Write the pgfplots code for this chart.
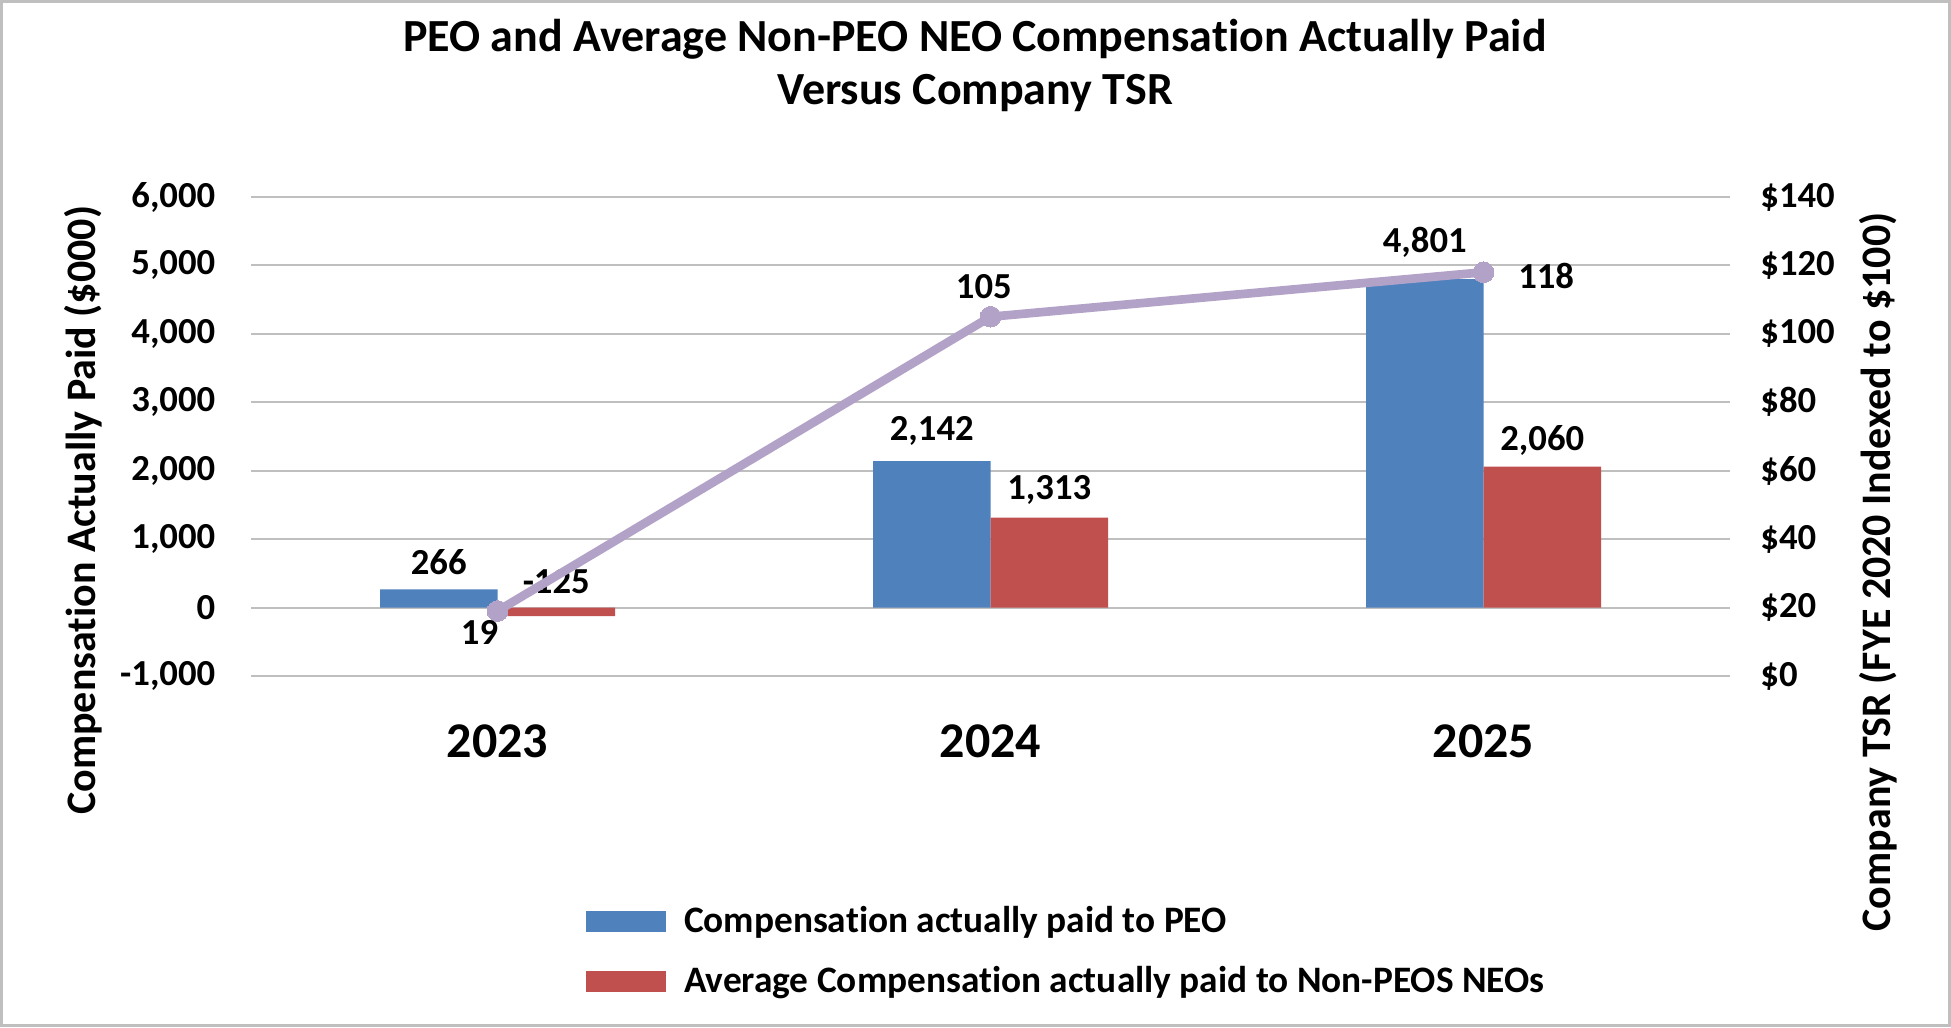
\documentclass[border=0pt]{standalone}
\usepackage{fontspec}
\setmainfont{Carlito}[Ligatures=NoCommon]
\usepackage{pgfplots}
\pgfplotsset{compat=1.18}
\usepackage{pgfplotstable}
\definecolor{peo}{HTML}{4F81BD}
\definecolor{neo}{HTML}{C0504D}
\definecolor{tsr}{HTML}{B3A2C7}
\definecolor{gridc}{HTML}{BFBFBF}

\pgfplotstableread{
x y dy
0 266 8.1
1 2142 9.0
2 4801 11.1
}\peodata
\pgfplotstableread{
x y dy
0 -125 10.4
1 1313 8.2
2 2060 7.9
}\neodata
\pgfplotstableread{
x y dx dy
0 19 -5.4 -6.5
1 105 -2.0 9.0
2 118 18.8 -1.1
}\tsrdata

\begin{document}
\begin{tikzpicture}[x=1pt,y=1pt]
\useasboundingbox (0,0) rectangle (585.3,308.1);
\draw[color=gridc, line width=0.8pt] (0.4,0.4) rectangle (584.9,307.7);
\node[font=\fontsize{13.8}{15.9}\selectfont\bfseries, align=center] at (292.5,288.5)
  {PEO and Average Non-PEO NEO Compensation Actually Paid\\Versus Company TSR};
\node[font=\fontsize{12.6}{14}\selectfont\bfseries, rotate=90] at (24.9,155.0) {Compensation Actually Paid (\$000)};
\node[font=\fontsize{12.6}{14}\selectfont\bfseries, rotate=90] at (563.5,136.5) {Company TSR (FYE 2020 Indexed to \$100)};
\begin{axis}[
  at={(75.3pt,105.3pt)}, anchor=south west,
  scale only axis, width=443.7pt, height=143.7pt,
  xmin=-0.5, xmax=2.5, ymin=-1000, ymax=6000,
  ybar=0pt, bar width=35.25pt,
  axis line style={draw=none},
  major tick length=0pt,
  ymajorgrids, grid style={color=gridc, line width=0.6pt},
  ytick={-1000,0,...,6000},
  xtick={0,1,2}, xticklabels={2023,2024,2025},
  xticklabel style={font=\fontsize{15}{17}\selectfont\bfseries, yshift=-11.2pt},
  yticklabel style={font=\fontsize{11}{13}\selectfont\bfseries, xshift=-7.2pt},
  /pgf/number format/assume math mode=true,
  /pgf/number format/.cd, 1000 sep={,}, /pgfplots/.cd,
  legend style={draw=none, fill=none, inner sep=0pt, outer sep=0pt,
    at={(0.2265,-0.5752)}, anchor=west,
    font=\fontsize{11.2}{13}\selectfont\bfseries,
    row sep=4.7pt,
    /tikz/every odd column/.append style={column sep=3.4pt},
    legend cell align=left},
  legend image code/.code={\fill[#1] (0pt,-3.15pt) rectangle (24pt,3.15pt);},
  nodes near coords,
  nodes near coords style={font=\fontsize{11}{13}\selectfont\bfseries},
]
\addplot[fill=peo, draw=none,
  visualization depends on={\thisrow{dy} \as \dy},
  every node near coord/.append style={anchor=center, yshift=\dy pt}]
  table[x=x, y=y] {\peodata};
\addlegendentry{Compensation actually paid to PEO}
\addplot[fill=neo, draw=none,
  visualization depends on={\thisrow{dy} \as \dy},
  every node near coord/.append style={anchor=center, yshift=\dy pt}]
  table[x=x, y=y] {\neodata};
\addlegendentry{Average Compensation actually paid to Non-PEOS NEOs}
\end{axis}
\begin{axis}[
  at={(75.3pt,105.3pt)}, anchor=south west,
  scale only axis, width=443.7pt, height=143.7pt,
  xmin=-0.5, xmax=2.5, ymin=0, ymax=140,
  axis x line=none,
  axis y line*=right,
  axis line style={draw=none},
  major tick length=0pt,
  ytick={0,20,...,140},
  yticklabel={\$\pgfmathprintnumber{\tick}},
  yticklabel style={font=\fontsize{11}{13}\selectfont\bfseries, anchor=west, xshift=5.6pt},
  /pgf/number format/assume math mode=true,
]
\addplot[color=tsr, line width=2.6pt, mark=*, mark size=3.1pt,
  mark options={fill=tsr, draw=tsr, line width=0pt},
  nodes near coords,
  visualization depends on={\thisrow{dx} \as \dx},
  visualization depends on={\thisrow{dy} \as \dy},
  every node near coord/.append style={anchor=center, xshift=\dx pt, yshift=\dy pt,
    font=\fontsize{11}{13}\selectfont\bfseries, text=black}]
  table[x=x, y=y] {\tsrdata};
\end{axis}
\end{tikzpicture}
\end{document}
